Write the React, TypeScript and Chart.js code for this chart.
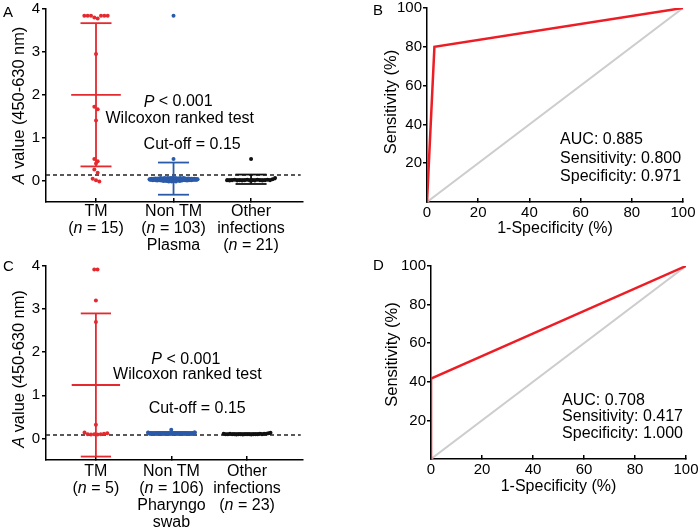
import React, { useEffect, useRef } from 'react';
import { Chart, registerables } from 'chart.js';

Chart.register(...registerables);

const FONT = 'Arial, "Liberation Sans", Helvetica, sans-serif';
const RED = '#e4292f';
const BLUE = '#2b5ba8';
const BLACK = '#111111';
const ROC_RED = '#ee1c24';
const GREY = '#cdcdcd';

// ---------------- data: panel A (plasma) ----------------
const groupNames = [['TM'], ['Non TM'], ['Other', 'infections']];
const nA = [15, 103, 21];
const sampleA = ['Plasma'];
const tmA = [3.84, 3.84, 3.84, 3.8, 3.78, 3.84, 3.84, 3.84, 2.95, 1.72, 1.66, 1.4, 0.5, 0.45, 0.4, 0.26, 0.18, 0.04, 0.01, -0.02];
const nonTmA = [
  0.03, 0.02, 0.03, 0.03, 0.02, 0.04, 0.03, 0.01, 0.03, 0.04, 0.02, 0.03, 0.05, 0.01, 0.03,
  0.04, 0.0, 0.03, 0.05, 0.02, 0.01, 0.04, 0.03, 0.06, 0.0, 0.02, 0.05, 0.01, 0.04, -0.01,
  0.03, 0.06, 0.0, 0.02, 0.05, -0.01, 0.04, 0.01, 0.06, 0.02, -0.02, 0.05, 0.03, 0.0, 0.06,
  0.01, -0.02, 0.04, 0.06, 0.02, -0.01, 0.05, 0.0, 0.03, 0.06, -0.02, 0.04, 0.01, 0.05, 0.02,
  0.5, 3.84,
  0.0, 0.05, 0.03, -0.01, 0.06, 0.02, 0.04, 0.0, 0.05, 0.01, 0.03, 0.06, 0.02, 0.04, 0.01,
  0.05, 0.02, 0.03, 0.0, 0.04, 0.03, 0.05, 0.01, 0.03, 0.04, 0.02, 0.03, 0.01, 0.04, 0.02,
  0.03, 0.03, 0.02, 0.04, 0.03, 0.02, 0.03, 0.03, 0.02, 0.03, 0.03,
];
const otherA = [0.01, 0.0, 0.01, 0.02, 0.0, 0.01, 0.0, 0.01, 0.02, 0.5, 0.0, 0.01, 0.0, 0.02, 0.01, 0.0, 0.01, 0.02, 0.01, 0.03, 0.06];
const meanA = [2.0, 0.04, 0.03];
const sdHighA = [3.67, 0.42, 0.14];
const sdLowA = [0.33, -0.33, -0.08];
const cutoffA = 0.13;

// ---------------- data: panel C (pharyngeal swab) ----------------
const nC = [5, 106, 23];
const sampleC = ['Pharyngo', 'swab'];
const tmC = [3.92, 3.92, 3.2, 2.7, 0.32, 0.14, 0.1, 0.09, 0.1, 0.09, 0.1, 0.11, 0.12];
const nonTmC = [
  0.14, 0.13, 0.12, 0.12, 0.11, 0.12, 0.12, 0.11, 0.12, 0.12, 0.11, 0.12, 0.11, 0.12, 0.12,
  0.11, 0.12, 0.12, 0.11, 0.12, 0.11, 0.12, 0.12, 0.11, 0.12, 0.11, 0.12, 0.12, 0.11, 0.12,
  0.12, 0.11, 0.12, 0.11, 0.12, 0.12, 0.11, 0.12, 0.11, 0.12, 0.12, 0.11, 0.12, 0.11, 0.12,
  0.11, 0.12, 0.12, 0.11, 0.12, 0.11, 0.12, 0.2, 0.11, 0.12, 0.12, 0.11, 0.12, 0.11, 0.12,
  0.12, 0.11, 0.12, 0.11, 0.12, 0.12, 0.11, 0.12, 0.11, 0.12, 0.12, 0.11, 0.12, 0.11, 0.12,
  0.11, 0.12, 0.12, 0.11, 0.12, 0.11, 0.12, 0.12, 0.11, 0.12, 0.11, 0.12, 0.12, 0.11, 0.12,
  0.12, 0.11, 0.12, 0.11, 0.12, 0.12, 0.11, 0.12, 0.11, 0.12, 0.11, 0.12, 0.12, 0.13, 0.14, 0.14,
];
const otherC = [0.11, 0.1, 0.1, 0.11, 0.1, 0.1, 0.09, 0.1, 0.1, 0.09, 0.1, 0.1, 0.1, 0.09, 0.1, 0.1, 0.1, 0.11, 0.1, 0.11, 0.11, 0.12, 0.13];
const meanC = [1.24, 0.12, 0.11];
const sdHighC = [2.9, 0.14, 0.12];
const sdLowC = [-0.42, 0.1, 0.1];
const cutoffC = 0.08;

const statText = ['P < 0.001', 'Wilcoxon ranked test', 'Cut-off = 0.15'];
const yTitleScatter = 'A value (450-630 nm)';
const yTicksScatter = [0, 1, 2, 3, 4];

// ---------------- data: ROC panels ----------------
const rocFprB = [0, 2.9, 100];
const rocTprB = [0, 80, 100];
const aucB = 0.885, sensB = 0.8, specB = 0.971;
const rocFprD = [0, 0, 100];
const rocTprD = [0, 41.7, 100];
const aucD = 0.708, sensD = 0.417, specD = 1.0;
const diagonal = [0, 100];
const rocYTicks = [20, 40, 60, 80, 100];
const rocXTicks = [0, 20, 40, 60, 80, 100];

// ---------------- helpers ----------------
type Seg = { t: string; i: boolean };
function rich(s: string): Seg[] {
  const parts = s.split(/(\bn(?= =)|^P(?= <)|^A(?= value))/);
  const out: Seg[] = [];
  parts.forEach((p, k) => {
    if (p) out.push({ t: p, i: k % 2 === 1 });
  });
  return out;
}
function drawRich(ctx: CanvasRenderingContext2D, s: string, x: number, y: number, size: number, align: 'left' | 'center' | 'right' = 'center') {
  const segs = rich(s);
  const fontOf = (it: boolean) => `${it ? 'italic ' : ''}${size}px ${FONT}`;
  let w = 0;
  segs.forEach((sg) => {
    ctx.font = fontOf(sg.i);
    w += ctx.measureText(sg.t).width;
  });
  let cx = align === 'left' ? x : align === 'right' ? x - w : x - w / 2;
  ctx.fillStyle = '#000';
  ctx.textBaseline = 'middle';
  ctx.textAlign = 'left';
  segs.forEach((sg) => {
    ctx.font = fontOf(sg.i);
    ctx.fillText(sg.t, cx, y);
    cx += ctx.measureText(sg.t).width;
  });
}

// groups points with similar values into rows and spreads each row sideways
function spread(values: number[], center: number, step: number, maxHalf: number, tol: number) {
  const bins: { ref: number; idx: number[] }[] = [];
  values.forEach((v, i) => {
    let b = bins.find((bb) => Math.abs(bb.ref - v) <= tol);
    if (!b) {
      b = { ref: v, idx: [] };
      bins.push(b);
    }
    b.idx.push(i);
  });
  const xs: number[] = new Array(values.length).fill(center);
  bins.forEach((b) => {
    const k = b.idx.length;
    const s = k > 1 ? Math.min(step, (2 * maxHalf) / (k - 1)) : 0;
    b.idx.forEach((i, j) => {
      xs[i] = center + (j - (k - 1) / 2) * s;
    });
  });
  return values.map((v, i) => ({ x: xs[i], y: v }));
}

const MEAN_HALF = 0.32;
const CAP_HALF = 0.2;
const POINT_STEP = 0.043;
const SWARM_HALF = 0.31;
const TEXT_SIZE = 16;

function seg(x1: number, y1: number, x2: number, y2: number, color: string, width: number, dash?: number[]) {
  return {
    data: [{ x: x1, y: y1 }, { x: x2, y: y2 }],
    showLine: true,
    pointRadius: 0,
    borderColor: color,
    borderWidth: width,
    borderDash: dash || [],
    fill: false,
  };
}

const axisCommon = {
  border: { display: true, color: '#000', width: 1.5 },
};

interface ScatterCfg {
  letter: string;
  letterPos: [number, number];
  width: number;
  height: number;
  padTop: number;
  padRight: number;
  yAxisW: number;
  xAxisH: number;
  xMin: number;
  xMax: number;
  groups: number[][];
  means: number[];
  hi: number[];
  lo: number[];
  cutoff: number;
  n: number[];
  sample: string[];
  statPos: [number, number][];
  labelTop: number;
  yTitleDy: number;
}

function ScatterPanel({ cfg }: { cfg: ScatterCfg }) {
  const ref = useRef<HTMLCanvasElement>(null);
  useEffect(() => {
    const colors = [RED, BLUE, BLACK];
    const datasets: any[] = [];
    cfg.groups.forEach((vals, g) => {
      datasets.push({
        data: spread(vals, g + 1, POINT_STEP, SWARM_HALF, 0.09),
        backgroundColor: colors[g],
        borderColor: colors[g],
        borderWidth: 0,
        pointBorderWidth: 0,
        pointRadius: 2,
        pointHoverRadius: 2,
      });
    });
    cfg.groups.forEach((_, g) => {
      const c = g + 1;
      const col = colors[g];
      datasets.push(seg(c - MEAN_HALF, cfg.means[g], c + MEAN_HALF, cfg.means[g], col, 1.8));
      datasets.push(seg(c, cfg.lo[g], c, cfg.hi[g], col, 1.8));
      datasets.push(seg(c - CAP_HALF, cfg.hi[g], c + CAP_HALF, cfg.hi[g], col, 1.8));
      datasets.push(seg(c - CAP_HALF, cfg.lo[g], c + CAP_HALF, cfg.lo[g], col, 1.8));
    });
    datasets.push(seg(cfg.xMin, cfg.cutoff, cfg.xMax - 0.03, cfg.cutoff, '#222', 1.4, [4, 3]));

    const labels = groupNames.map((names, g) => {
      const lines = [...names];
      const nLine = `(n = ${cfg.n[g]})`;
      if (g === 2) lines.push(nLine);
      else lines.splice(1, 0, nLine);
      if (g === 1) lines.push(...cfg.sample);
      return lines;
    });

    const decor = {
      id: 'decor',
      afterDraw(chart: any) {
        const ctx = chart.ctx as CanvasRenderingContext2D;
        const { left, bottom, top } = chart.chartArea;
        const xs = chart.scales.x;
        const ys = chart.scales.y;
        ctx.save();
        labels.forEach((lines, g) => {
          const px = xs.getPixelForValue(g + 1);
          lines.forEach((ln, k) => drawRich(ctx, ln, px, bottom + cfg.labelTop + k * 16.8, TEXT_SIZE));
        });
        statText.forEach((t, k) => {
          const [vx, vy] = cfg.statPos[k];
          drawRich(ctx, t, xs.getPixelForValue(vx), ys.getPixelForValue(vy), TEXT_SIZE);
        });
        ctx.save();
        ctx.translate(left - 27, (top + bottom) / 2 + cfg.yTitleDy);
        ctx.rotate(-Math.PI / 2);
        drawRich(ctx, yTitleScatter, 0, 0, 16.4);
        ctx.restore();
        drawRich(ctx, cfg.letter, cfg.letterPos[0], cfg.letterPos[1], 15, 'left');
        ctx.restore();
      },
    };

    const chart = new Chart(ref.current!, {
      type: 'scatter',
      data: { datasets },
      options: {
        responsive: false,
        animation: false,
        events: [],
        layout: { padding: { top: cfg.padTop, right: cfg.padRight, left: 0, bottom: 0 } },
        plugins: { legend: { display: false }, tooltip: { enabled: false } },
        scales: {
          x: {
            type: 'linear',
            min: cfg.xMin,
            max: cfg.xMax,
            afterBuildTicks: (s: any) => {
              s.ticks = [1, 2, 3].map((v) => ({ value: v }));
            },
            ticks: { callback: () => '', font: { family: FONT, size: 15 } },
            grid: { drawOnChartArea: false, drawTicks: true, tickLength: -4, color: '#000', lineWidth: 1.5 },
            ...axisCommon,
            afterFit: (s: any) => {
              s.height = cfg.xAxisH;
              s.paddingLeft = 0;
              s.paddingRight = 0;
            },
          },
          y: {
            type: 'linear',
            min: -0.5,
            max: 4,
            afterBuildTicks: (s: any) => {
              s.ticks = yTicksScatter.map((v) => ({ value: v }));
            },
            ticks: { color: '#000', padding: 2, font: { family: FONT, size: 15 } },
            grid: { drawOnChartArea: false, drawTicks: true, tickLength: 4, color: '#000', lineWidth: 1.5 },
            ...axisCommon,
            afterFit: (s: any) => {
              s.width = cfg.yAxisW;
              s.paddingTop = 0;
              s.paddingBottom = 0;
            },
          },
        },
      } as any,
      plugins: [decor],
    });
    return () => chart.destroy();
  }, []);
  return <canvas ref={ref} width={cfg.width} height={cfg.height} style={{ width: cfg.width, height: cfg.height, display: 'block' }} />;
}

interface RocCfg {
  letter: string;
  letterPos: [number, number];
  width: number;
  height: number;
  padTop: number;
  padRight: number;
  yAxisW: number;
  xAxisH: number;
  fpr: number[];
  tpr: number[];
  auc: number;
  sens: number;
  spec: number;
  statPos: [number, number];
  statGap: number;
  yTitleDx: number;
  yTitleDy: number;
  xTitleDy: number;
}

function RocPanel({ cfg }: { cfg: RocCfg }) {
  const ref = useRef<HTMLCanvasElement>(null);
  useEffect(() => {
    const datasets: any[] = [
      {
        data: cfg.fpr.map((x, i) => ({ x, y: cfg.tpr[i] })),
        showLine: true,
        pointRadius: 0,
        borderColor: ROC_RED,
        borderWidth: 2.5,
        fill: false,
      },
      {
        data: diagonal.map((v) => ({ x: v, y: v })),
        showLine: true,
        pointRadius: 0,
        borderColor: GREY,
        borderWidth: 2,
        fill: false,
      },
    ];
    const stats = [`AUC: ${cfg.auc.toFixed(3)}`, `Sensitivity: ${cfg.sens.toFixed(3)}`, `Specificity: ${cfg.spec.toFixed(3)}`];
    const decor = {
      id: 'decor',
      afterDraw(chart: any) {
        const ctx = chart.ctx as CanvasRenderingContext2D;
        const { left, right, top, bottom } = chart.chartArea;
        const xs = chart.scales.x;
        const ys = chart.scales.y;
        ctx.save();
        const sx = xs.getPixelForValue(cfg.statPos[0]);
        const sy = ys.getPixelForValue(cfg.statPos[1]);
        stats.forEach((t, k) => drawRich(ctx, t, sx, sy + k * cfg.statGap, 16, 'left'));
        drawRich(ctx, '1-Specificity (%)', (left + right) / 2, bottom + cfg.xTitleDy, 16);
        ctx.save();
        ctx.translate(left - cfg.yTitleDx, (top + bottom) / 2 + cfg.yTitleDy);
        ctx.rotate(-Math.PI / 2);
        drawRich(ctx, 'Sensitivity (%)', 0, 0, 16.5);
        ctx.restore();
        drawRich(ctx, cfg.letter, cfg.letterPos[0], cfg.letterPos[1], 15, 'left');
        ctx.restore();
      },
    };
    const chart = new Chart(ref.current!, {
      type: 'scatter',
      data: { datasets },
      options: {
        responsive: false,
        animation: false,
        events: [],
        layout: { padding: { top: cfg.padTop, right: cfg.padRight, left: 0, bottom: 0 } },
        plugins: { legend: { display: false }, tooltip: { enabled: false } },
        scales: {
          x: {
            type: 'linear',
            min: 0,
            max: 100,
            afterBuildTicks: (s: any) => {
              s.ticks = rocXTicks.map((v) => ({ value: v }));
            },
            ticks: { color: '#000', padding: 6, font: { family: FONT, size: 15 } },
            grid: { drawOnChartArea: false, drawTicks: true, tickLength: -4, color: '#000', lineWidth: 1.5 },
            ...axisCommon,
            afterFit: (s: any) => {
              s.height = cfg.xAxisH;
              s.paddingLeft = 0;
              s.paddingRight = 0;
            },
          },
          y: {
            type: 'linear',
            min: 0,
            max: 100,
            afterBuildTicks: (s: any) => {
              s.ticks = rocYTicks.map((v) => ({ value: v }));
            },
            ticks: { color: '#000', padding: 1, font: { family: FONT, size: 15 } },
            grid: { drawOnChartArea: false, drawTicks: true, tickLength: 4, color: '#000', lineWidth: 1.5 },
            ...axisCommon,
            afterFit: (s: any) => {
              s.width = cfg.yAxisW;
              s.paddingTop = 0;
              s.paddingBottom = 0;
            },
          },
        },
      } as any,
      plugins: [decor],
    });
    return () => chart.destroy();
  }, []);
  return <canvas ref={ref} width={cfg.width} height={cfg.height} style={{ width: cfg.width, height: cfg.height, display: 'block' }} />;
}

const cfgA: ScatterCfg = {
  letter: 'A', letterPos: [3, 13], width: 350, height: 260,
  padTop: 9, padRight: 47, yAxisW: 46, xAxisH: 58,
  xMin: 0.355, xMax: 3.67,
  groups: [tmA, nonTmA, otherA], means: meanA, hi: sdHighA, lo: sdLowA, cutoff: cutoffA,
  n: nA, sample: sampleA,
  statPos: [[2.06, 1.83], [2.08, 1.44], [2.24, 0.83]],
  labelTop: 10, yTitleDy: 0,
};
const cfgC: ScatterCfg = {
  letter: 'C', letterPos: [3, 7], width: 350, height: 272,
  padTop: 6, padRight: 47, yAxisW: 46, xAxisH: 72,
  xMin: 0.34, xMax: 3.74,
  groups: [tmC, nonTmC, otherC], means: meanC, hi: sdHighC, lo: sdLowC, cutoff: cutoffC,
  n: nC, sample: sampleC,
  statPos: [[2.19, 1.84], [2.21, 1.47], [2.34, 0.7]],
  labelTop: 12, yTitleDy: 6,
};
const cfgB: RocCfg = {
  letter: 'B', letterPos: [23, 11], width: 350, height: 260,
  padTop: 8, padRight: 17, yAxisW: 77, xAxisH: 58,
  fpr: rocFprB, tpr: rocTprB, auc: aucB, sens: sensB, spec: specB,
  statPos: [52, 32], statGap: 18.5, yTitleDx: 36, yTitleDy: -3, xTitleDy: 27,
};
const cfgD: RocCfg = {
  letter: 'D', letterPos: [23, 6], width: 350, height: 272,
  padTop: 6, padRight: 14, yAxisW: 81, xAxisH: 73,
  fpr: rocFprD, tpr: rocTprD, auc: aucD, sens: sensD, spec: specD,
  statPos: [51.4, 30.2], statGap: 16.3, yTitleDx: 39, yTitleDy: -8, xTitleDy: 28,
};

export default function App() {
  const pos = (l: number, t: number): React.CSSProperties => ({ position: 'absolute', left: l, top: t });
  return (
    <div style={{ position: 'absolute', left: 0, top: 0, width: 700, height: 532, background: '#fff', overflow: 'hidden' }}>
      <div style={pos(0, 0)}><ScatterPanel cfg={cfgA} /></div>
      <div style={pos(350, 0)}><RocPanel cfg={cfgB} /></div>
      <div style={pos(0, 260)}><ScatterPanel cfg={cfgC} /></div>
      <div style={pos(350, 260)}><RocPanel cfg={cfgD} /></div>
    </div>
  );
}
